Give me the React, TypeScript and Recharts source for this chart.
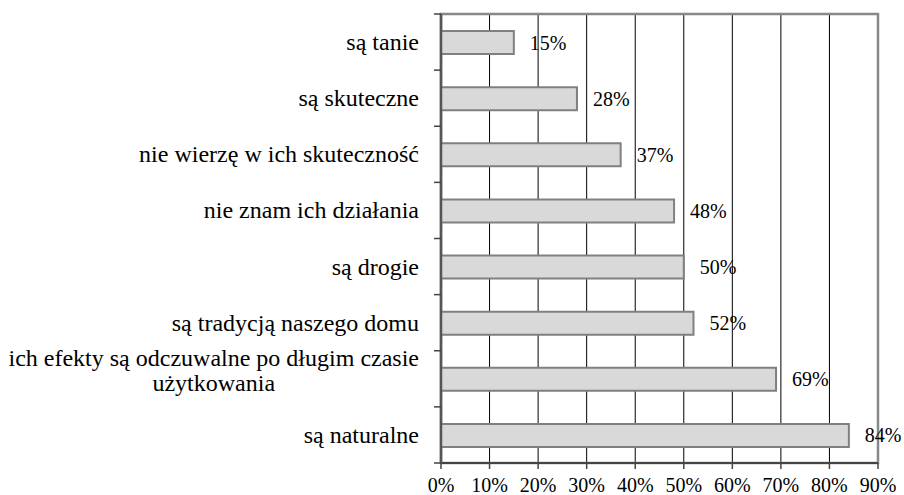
import { BarChart, Bar, XAxis, YAxis, CartesianGrid, LabelList, ReferenceArea } from 'recharts';

const categories = [
  'są tanie',
  'są skuteczne',
  'nie wierzę w ich skuteczność',
  'nie znam ich działania',
  'są drogie',
  'są tradycją naszego domu',
  'ich efekty są odczuwalne po długim czasie użytkowania',
  'są naturalne',
];
const values = [15, 28, 37, 48, 50, 52, 69, 84];
const xTicks = [0, 10, 20, 30, 40, 50, 60, 70, 80, 90];

// labels that Excel wrapped onto two lines
const wrapped: Record<string, string[]> = {
  'ich efekty są odczuwalne po długim czasie użytkowania': [
    'ich efekty są odczuwalne po długim czasie',
    'użytkowania',
  ],
};

const data = categories.map((name, i) => ({ name, value: values[i] }));

const W = 904;
const H = 495;
const margin = { top: 14, right: 26, bottom: 0, left: 0 };
const Y_AXIS_W = 441;
const X_AXIS_H = 32;
const BAND = (H - margin.top - margin.bottom - X_AXIS_H) / categories.length;
const FONT = "'Liberation Serif', 'Times New Roman', serif";
const CAT_SIZE = 24;

function textWidth(s: string, size: number) {
  const c = document.createElement('canvas').getContext('2d');
  if (!c) return s.length * size * 0.42;
  c.font = `${size}px ${FONT}`;
  return c.measureText(s).width;
}

const CategoryTick = (props: any) => {
  const { x, y, payload, index } = props;
  const axisX = x + 22;
  const lines = wrapped[payload.value] || [payload.value];
  const last = index === categories.length - 1;
  const st = { fontFamily: FONT, fontSize: CAT_SIZE };
  const cx = lines.length > 1 ? x - textWidth(lines[0], CAT_SIZE) / 2 : x;
  return (
    <g>
      <line x1={axisX - 7} x2={axisX} y1={y - BAND / 2} y2={y - BAND / 2} stroke="#444" strokeWidth={1.5} />
      {last && (
        <line x1={axisX - 7} x2={axisX} y1={y + BAND / 2} y2={y + BAND / 2} stroke="#444" strokeWidth={1.5} />
      )}
      {lines.length === 1 ? (
        <text x={x} y={y} textAnchor="end" dominantBaseline="central" style={st} fill="#000">
          {lines[0]}
        </text>
      ) : (
        <text x={cx} y={y} textAnchor="middle" style={st} fill="#000">
          <tspan x={cx} dy={-13}>{lines[0]}</tspan>
          <tspan x={cx} dy={25}>{lines[1]}</tspan>
        </text>
      )}
    </g>
  );
};

const ValueLabel = (props: any) => {
  const { x, y, width, height, value } = props;
  return (
    <text
      x={x + width + 16}
      y={y + height / 2}
      dominantBaseline="central"
      style={{ fontFamily: FONT, fontSize: 20 }}
      fill="#000"
    >
      {value}%
    </text>
  );
};

export default function App() {
  return (
    <div style={{ position: 'absolute', left: 0, top: 0, background: '#fff' }}>
      <BarChart width={W} height={H} data={data} layout="vertical" margin={margin} style={{ fontFamily: FONT }}>
        <CartesianGrid horizontal={false} vertical stroke="#000" strokeWidth={1} />
        <XAxis
          type="number"
          domain={[0, 90]}
          ticks={xTicks}
          interval={0}
          height={X_AXIS_H}
          tickFormatter={(v: number) => `${v}%`}
          axisLine={{ stroke: '#444', strokeWidth: 2 }}
          tickLine={{ stroke: '#444', strokeWidth: 1.5 }}
          tickSize={6}
          tickMargin={9}
          tick={{ fontSize: 20, fontFamily: FONT, fill: '#000' }}
        />
        <YAxis
          type="category"
          dataKey="name"
          width={Y_AXIS_W}
          interval={0}
          axisLine={{ stroke: '#555', strokeWidth: 2.5 }}
          tickLine={false}
          tickSize={0}
          tickMargin={22}
          tick={<CategoryTick />}
        />
        <ReferenceArea x1={0} x2={90} fill="none" stroke="#888" strokeWidth={2.5} ifOverflow="visible" />
        <Bar dataKey="value" barSize={23} fill="#d9d9d9" stroke="#808080" strokeWidth={2} isAnimationActive={false}>
          <LabelList dataKey="value" content={<ValueLabel />} />
        </Bar>
      </BarChart>
    </div>
  );
}
